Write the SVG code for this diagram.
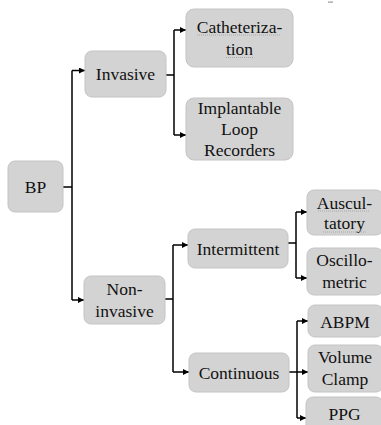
<svg xmlns="http://www.w3.org/2000/svg" width="381" height="425" viewBox="0 0 381 425">
<defs>
<marker id="arr" markerUnits="userSpaceOnUse" markerWidth="7" markerHeight="6" refX="6" refY="3" orient="auto">
<path d="M0,0 L6,3 L0,6 Z" fill="#000"/>
</marker>
<style>
.box{fill:#d3d3d3;stroke:#c4c4c4;stroke-width:1}
.t{font-family:"Liberation Serif","Times New Roman",serif;font-size:17.5px;fill:#111;text-anchor:middle}
.c{fill:none;stroke:#000;stroke-width:1.5}
.a{fill:none;stroke:#000;stroke-width:1.5;marker-end:url(#arr)}
.sq{fill:none;stroke:#a0a0a0;stroke-width:0.8;stroke-dasharray:1 1}
</style>
</defs>
<rect width="381" height="425" fill="#fff"/>
<rect x="328" y="1.5" width="5" height="1.2" fill="#999"/>
<g id="connectors">
<path class="c" d="M63,187 H72 M72,70.5 V300"/>
<path class="a" d="M72,70.5 H85"/>
<path class="a" d="M72,300 H84"/>
<path class="c" d="M166,75 H174 M174,30 V135"/>
<path class="a" d="M174,30 H186"/>
<path class="a" d="M174,135 H186"/>
<path class="c" d="M165,299 H173 M173,245 V372"/>
<path class="a" d="M173,245 H188"/>
<path class="a" d="M173,372 H189"/>
<path class="c" d="M288,243 H296 M296,212 V278"/>
<path class="a" d="M296,212 H307"/>
<path class="a" d="M296,278 H307"/>
<path class="c" d="M297,321 V418"/>
<path class="a" d="M289,372 H308"/>
<path class="a" d="M297,321 H308"/>
<path class="a" d="M297,418 H306"/>
</g>
<g id="bp"><rect class="box" x="8" y="161" width="55" height="51" rx="7"/><text class="t" x="35.5" y="193">BP</text></g>
<g id="invasive"><rect class="box" x="85" y="51" width="81" height="46" rx="7"/><text class="t" x="125.5" y="80">Invasive</text></g>
<g id="noninvasive"><rect class="box" x="84" y="276" width="81" height="48" rx="7"/><text class="t" x="124.5" y="295">Non-</text><text class="t" x="124.5" y="317">invasive</text></g>
<g id="catheterization"><rect class="box" x="186" y="9" width="107" height="58" rx="8"/><text class="t" x="239.5" y="33">Catheteriza-</text><text class="t" x="239.5" y="55">tion</text><path class="sq" d="M197,35 H281 M226,57.5 H254"/></g>
<g id="implantable"><rect class="box" x="186" y="98" width="107" height="62" rx="8"/><text class="t" x="239.5" y="114">Implantable</text><text class="t" x="239.5" y="135">Loop</text><text class="t" x="239.5" y="156">Recorders</text></g>
<g id="intermittent"><rect class="box" x="188" y="229" width="100" height="39" rx="7"/><text class="t" x="238" y="255">Intermittent</text></g>
<g id="continuous"><rect class="box" x="189" y="353" width="100" height="39" rx="7"/><text class="t" x="239" y="379">Continuous</text></g>
<g id="auscultatory"><rect class="box" x="307" y="190" width="76" height="45" rx="7"/><text class="t" x="344.5" y="209">Auscul-</text><text class="t" x="344.5" y="229">tatory</text><path class="sq" d="M318,211 H369 M323,232 H366"/></g>
<g id="oscillometric"><rect class="box" x="307" y="248" width="76" height="47" rx="7"/><text class="t" x="344.5" y="266">Oscillo-</text><text class="t" x="344.5" y="288">metric</text></g>
<g id="abpm"><rect class="box" x="308" y="305" width="75" height="32" rx="7"/><text class="t" x="345" y="328">ABPM</text></g>
<g id="volumeclamp"><rect class="box" x="308" y="345" width="75" height="47" rx="7"/><text class="t" x="345" y="363">Volume</text><text class="t" x="345" y="385">Clamp</text></g>
<g id="ppg"><rect class="box" x="306" y="397" width="77" height="40" rx="7"/><text class="t" x="344.5" y="420">PPG</text></g>
</svg>
